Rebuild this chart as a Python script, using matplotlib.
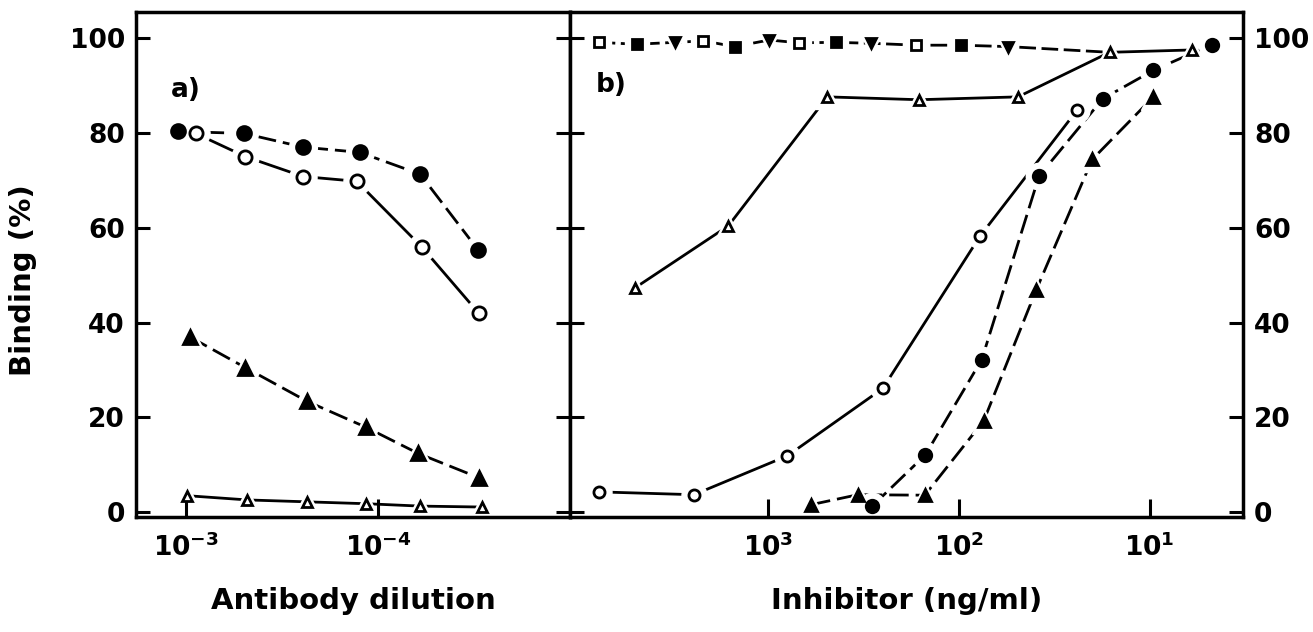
import matplotlib
matplotlib.use('Agg')
import matplotlib.pyplot as plt
from matplotlib.ticker import FixedLocator, NullLocator

# ---------------- Panel a) : Antibody dilution ----------------
a_dil_filled_circle = [1.096e-3, 5.0e-4, 2.45e-4, 1.245e-4, 6.03e-5, 3.02e-5]
a_bind_filled_circle = [80.3, 79.9, 77.0, 75.9, 71.3, 55.4]
a_dil_open_circle = [8.9e-4, 4.9e-4, 2.45e-4, 1.29e-4, 5.9e-5, 2.99e-5]
a_bind_open_circle = [79.9, 75.0, 70.8, 69.8, 55.9, 42.0]
a_dil_filled_tri = [9.55e-4, 4.9e-4, 2.34e-4, 1.15e-4, 6.17e-5, 2.99e-5]
a_bind_filled_tri = [37.0, 30.5, 23.4, 17.9, 12.4, 7.3]
a_dil_open_tri = [9.9e-4, 4.79e-4, 2.34e-4, 1.15e-4, 6.03e-5, 2.88e-5]
a_bind_open_tri = [3.5, 2.6, 2.2, 1.8, 1.3, 1.1]

# ---------------- Panel b) : Inhibitor (ng/ml) ----------------
b_conc_open_circle = [7760, 2455, 794, 251, 77.6, 24.0]
b_bind_open_circle = [4.3, 3.7, 11.9, 26.1, 58.2, 84.8]
b_conc_filled_circle = [285, 150, 75.9, 38.0, 17.6, 9.55, 4.73]
b_bind_filled_circle = [1.3, 12.1, 32.2, 70.9, 87.2, 93.2, 98.6]
b_conc_filled_tri = [596, 339, 151, 74.1, 39.4, 20.0, 9.55]
b_bind_filled_tri = [1.6, 3.7, 3.6, 19.3, 46.8, 74.4, 87.6]
b_conc_open_tri = [5010, 1620, 490, 162, 49.0, 16.2, 5.96]
b_bind_open_tri = [47.3, 60.4, 87.6, 87.0, 87.6, 97.0, 97.5]
b_conc_open_sq = [7760, 2190, 692, 168]
b_bind_open_sq = [99.1, 99.4, 99.0, 98.5]
b_conc_filled_sq = [4900, 1496, 442, 97.7]
b_bind_filled_sq = [98.7, 98.2, 99.1, 98.5]
b_conc_tri_down = [3090, 989, 288, 55.0]
b_bind_tri_down = [99.1, 99.6, 98.9, 98.2]

y_ticks = [0, 20, 40, 60, 80, 100]
a_xticks = [1e-3, 1e-4]
a_xticklabels = [r'$10^{-3}$', r'$10^{-4}$']
b_xticks = [1e3, 1e2, 1e1]
b_xticklabels = [r'$10^{3}$', r'$10^{2}$', r'$10^{1}$']

plt.rcParams['font.family'] = ['DejaVu Sans']
plt.rcParams['font.weight'] = 'bold'
plt.rcParams['axes.labelweight'] = 'bold'
plt.rcParams['mathtext.default'] = 'bf'
FS = 19
LFS = 21

fig = plt.figure(figsize=(13.13, 6.32), dpi=100)
W, H = 1313, 632
bot, top = 517, 12
axa = fig.add_axes([136 / W, (H - bot) / H, (570 - 136) / W, (bot - top) / H])
axb = fig.add_axes([570 / W, (H - bot) / H, (1243 - 570) / W, (bot - top) / H])

LW = 2.0
MS = 9


def series(ax, x, y, marker, filled, ls='-', ms=MS, line=True):
    if line:
        ax.plot(x, y, color='black', lw=LW, ls=ls, zorder=2)
    # white halo gives the gaps around markers
    ax.plot(x, y, ls='none', marker=marker, ms=ms + 10, mfc='white', mec='white', zorder=3)
    ax.plot(x, y, ls='none', marker=marker, ms=ms,
            mfc='black' if filled else 'white', mec='black', mew=2.0, zorder=4)


dash = (0, (7, 2.5))
# panel a
series(axa, a_dil_filled_circle, a_bind_filled_circle, 'o', True, ls=dash, ms=10)
series(axa, a_dil_open_circle, a_bind_open_circle, 'o', False, ms=9.5)
series(axa, a_dil_filled_tri, a_bind_filled_tri, '^', True, ls=dash, ms=10)
series(axa, a_dil_open_tri, a_bind_open_tri, '^', False, ms=7.5)

# panel b: top "no inhibition" line through all three marker types
top_x = b_conc_open_sq + b_conc_filled_sq + b_conc_tri_down
top_y = b_bind_open_sq + b_bind_filled_sq + b_bind_tri_down
order = sorted(range(len(top_x)), key=lambda i: -top_x[i])
line_x = [top_x[i] for i in order] + [b_conc_open_tri[5]]
line_y = [top_y[i] for i in order] + [b_bind_open_tri[5]]
axb.plot(line_x, line_y, color='black', lw=LW, ls=(0, (6, 2)), zorder=2)
series(axb, b_conc_open_sq, b_bind_open_sq, 's', False, ms=7, line=False)
series(axb, b_conc_filled_sq, b_bind_filled_sq, 's', True, ms=7, line=False)
series(axb, b_conc_tri_down, b_bind_tri_down, 'v', True, ms=7, line=False)

series(axb, b_conc_open_tri, b_bind_open_tri, '^', False, ms=7)
series(axb, b_conc_open_circle, b_bind_open_circle, 'o', False, ms=8)
series(axb, b_conc_filled_circle, b_bind_filled_circle, 'o', True, ls=dash, ms=9)
series(axb, b_conc_filled_tri, b_bind_filled_tri, '^', True, ls=dash, ms=8)

for ax in (axa, axb):
    ax.set_xscale('log')
    ax.set_ylim(-1, 105.5)
    ax.yaxis.set_major_locator(FixedLocator(y_ticks))
    ax.xaxis.set_minor_locator(NullLocator())
    for s in ax.spines.values():
        s.set_linewidth(2.5)
        s.set_zorder(3.5)
    ax.xaxis.set_zorder(3.5)
    ax.yaxis.set_zorder(3.5)
    ax.tick_params(axis='both', which='major', direction='in', width=2.2,
                   labelsize=FS, colors='black')
    ax.tick_params(axis='x', length=13, pad=12)
    ax.tick_params(axis='y', length=10, pad=8)

axa.set_xlim(10 ** -2.74, 1e-5)
axa.set_xticks(a_xticks)
axa.set_xticklabels(a_xticklabels)
axa.tick_params(axis='y', left=True, right=True, labelleft=True, labelright=False)
axa.set_yticklabels([str(v) for v in y_ticks])

axb.set_xlim(10 ** 4.04, 10 ** 0.51)
axb.set_xticks(b_xticks)
axb.set_xticklabels(b_xticklabels)
axb.tick_params(axis='y', left=True, right=True, labelleft=False, labelright=True)
axb.set_yticklabels([str(v) for v in y_ticks])

axa.text(1.0e-3, 89, 'a)', fontsize=FS, ha='center', va='center')
axb.text(6700, 90, 'b)', fontsize=FS, ha='center', va='center')

axa.set_xlabel('Antibody dilution', fontsize=LFS, labelpad=18)
axb.set_xlabel('Inhibitor (ng/ml)', fontsize=LFS, labelpad=18)
fig.text(23 / W, 1 - 280 / H, 'Binding (%)', rotation=90, fontsize=LFS,
         fontweight='bold', ha='center', va='center')

fig.savefig('out.png', dpi=100, facecolor='white')
